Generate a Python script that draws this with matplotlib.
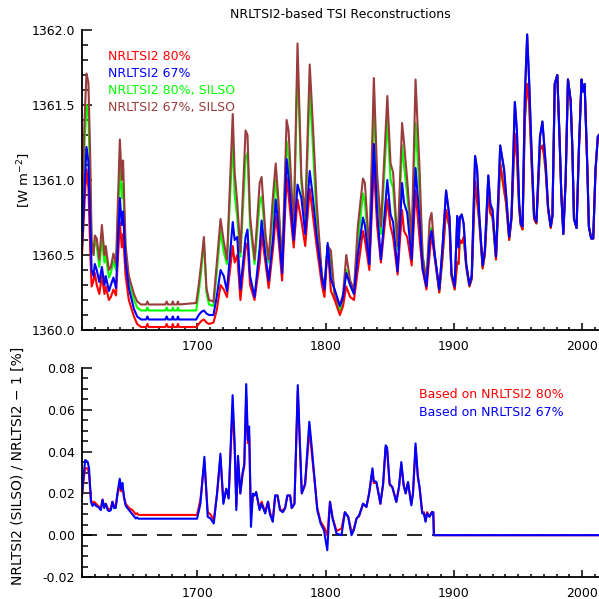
import numpy as np
import matplotlib
matplotlib.use('Agg')
import matplotlib.pyplot as plt
from matplotlib.ticker import MultipleLocator

# top panel, 1610-1885: all four reconstructions
yr_a = [1610, 1612, 1613.5, 1615, 1616.5, 1617.5, 1619, 1620, 1621.5, 1623.5,
        1625.5, 1627.5, 1628.5, 1631, 1632.5, 1634.5, 1636.5, 1639.5, 1641, 1642,
        1644, 1646.5, 1650.5, 1653, 1656, 1660, 1661, 1662, 1675, 1676,
        1677, 1680, 1680.8, 1681.5, 1684, 1684.8, 1685.5, 1699, 1701, 1703,
        1705, 1707, 1709, 1712.5, 1715, 1718, 1720.5, 1723, 1727.5, 1729,
        1731, 1733.5, 1737.5, 1739, 1741, 1744.5, 1748.5, 1750, 1753, 1755.5,
        1759, 1761, 1763, 1766, 1769.5, 1771, 1775, 1778, 1781, 1784,
        1787.5, 1789.5, 1793, 1797, 1799, 1801.5, 1804, 1807, 1811, 1813.5,
        1816, 1819, 1822, 1825, 1829, 1830.5, 1834, 1837.5, 1840, 1843,
        1848, 1850.5, 1852.5, 1856, 1859.5, 1861, 1863.5, 1867, 1870, 1873,
        1875.5, 1878.5, 1881, 1882.5]
nrl80_a = [1360.50, 1360.85, 1361.07, 1360.95, 1360.50, 1360.29, 1360.33, 1360.38, 1360.30, 1360.24,
           1360.36, 1360.24, 1360.29, 1360.20, 1360.22, 1360.27, 1360.23, 1360.72, 1360.55, 1360.64,
           1360.36, 1360.20, 1360.09, 1360.04, 1360.02, 1360.02, 1360.04, 1360.02, 1360.02, 1360.04,
           1360.02, 1360.02, 1360.04, 1360.02, 1360.02, 1360.04, 1360.02, 1360.02, 1360.04, 1360.06,
           1360.07, 1360.05, 1360.04, 1360.05, 1360.13, 1360.30, 1360.27, 1360.22, 1360.56, 1360.45,
           1360.50, 1360.20, 1360.55, 1360.58, 1360.30, 1360.20, 1360.45, 1360.64, 1360.45, 1360.28,
           1360.55, 1360.76, 1360.62, 1360.33, 1361.02, 1360.90, 1360.55, 1360.87, 1360.73, 1360.56,
           1360.94, 1360.80, 1360.55, 1360.30, 1360.22, 1360.56, 1360.26, 1360.20, 1360.10, 1360.16,
           1360.29, 1360.22, 1360.20, 1360.40, 1360.66, 1360.60, 1360.40, 1361.10, 1360.70, 1360.45,
           1360.87, 1360.69, 1360.62, 1360.37, 1360.80, 1360.66, 1360.62, 1360.43, 1360.93, 1360.62,
           1360.40, 1360.27, 1360.51, 1360.64]
nrl67_a = [1360.55, 1360.95, 1361.22, 1361.12, 1360.68, 1360.40, 1360.36, 1360.44, 1360.40, 1360.32,
           1360.42, 1360.30, 1360.36, 1360.26, 1360.30, 1360.35, 1360.28, 1360.88, 1360.70, 1360.79,
           1360.45, 1360.28, 1360.14, 1360.09, 1360.07, 1360.07, 1360.09, 1360.07, 1360.07, 1360.09,
           1360.07, 1360.07, 1360.09, 1360.07, 1360.07, 1360.09, 1360.07, 1360.07, 1360.10, 1360.12,
           1360.13, 1360.11, 1360.10, 1360.10, 1360.22, 1360.40, 1360.36, 1360.26, 1360.72, 1360.60,
           1360.62, 1360.27, 1360.62, 1360.67, 1360.36, 1360.22, 1360.55, 1360.73, 1360.50, 1360.33,
           1360.62, 1360.87, 1360.70, 1360.38, 1361.14, 1361.02, 1360.60, 1360.97, 1360.88, 1360.64,
           1361.06, 1360.92, 1360.62, 1360.35, 1360.27, 1360.58, 1360.34, 1360.27, 1360.16, 1360.22,
           1360.38, 1360.30, 1360.24, 1360.50, 1360.75, 1360.70, 1360.44, 1361.24, 1360.80, 1360.47,
           1361.00, 1360.77, 1360.72, 1360.39, 1360.98, 1360.85, 1360.78, 1360.47, 1361.08, 1360.75,
           1360.41, 1360.29, 1360.60, 1360.66]
silso80_a = [1360.72, 1361.25, 1361.50, 1361.42, 1360.95, 1360.55, 1360.50, 1360.60, 1360.56, 1360.42,
             1360.60, 1360.45, 1360.50, 1360.35, 1360.38, 1360.46, 1360.40, 1361.08, 1360.88, 1360.98,
             1360.52, 1360.33, 1360.20, 1360.15, 1360.13, 1360.13, 1360.15, 1360.13, 1360.13, 1360.15,
             1360.13, 1360.13, 1360.15, 1360.13, 1360.13, 1360.15, 1360.13, 1360.13, 1360.25, 1360.40,
             1360.60, 1360.25, 1360.17, 1360.16, 1360.38, 1360.66, 1360.52, 1360.44, 1361.27, 1360.90,
             1360.75, 1360.49, 1361.15, 1361.18, 1360.70, 1360.44, 1360.85, 1360.89, 1360.62, 1360.45,
             1360.80, 1361.00, 1360.82, 1360.45, 1361.26, 1361.15, 1360.64, 1361.78, 1360.98, 1360.70,
             1361.60, 1361.30, 1360.72, 1360.36, 1360.27, 1360.56, 1360.47, 1360.21, 1360.13, 1360.20,
             1360.40, 1360.30, 1360.24, 1360.58, 1360.91, 1360.85, 1360.50, 1361.51, 1360.95, 1360.64,
             1361.40, 1361.00, 1360.95, 1360.54, 1361.23, 1361.10, 1360.90, 1360.57, 1361.38, 1360.95,
             1360.50, 1360.32, 1360.66, 1360.68]
silso67_a = [1360.78, 1361.40, 1361.71, 1361.65, 1361.12, 1360.60, 1360.50, 1360.63, 1360.61, 1360.47,
             1360.70, 1360.50, 1360.56, 1360.40, 1360.42, 1360.51, 1360.44, 1361.27, 1361.00, 1361.13,
             1360.56, 1360.36, 1360.24, 1360.19, 1360.17, 1360.17, 1360.19, 1360.17, 1360.17, 1360.19,
             1360.17, 1360.17, 1360.19, 1360.17, 1360.17, 1360.19, 1360.17, 1360.18, 1360.30, 1360.45,
             1360.62, 1360.28, 1360.20, 1360.19, 1360.44, 1360.74, 1360.59, 1360.47, 1361.44, 1361.05,
             1360.85, 1360.52, 1361.33, 1361.30, 1360.76, 1360.47, 1360.98, 1361.02, 1360.64, 1360.47,
             1360.91, 1361.11, 1360.88, 1360.42, 1361.40, 1361.33, 1360.67, 1361.91, 1361.02, 1360.76,
             1361.77, 1361.45, 1360.84, 1360.36, 1360.28, 1360.56, 1360.53, 1360.22, 1360.16, 1360.24,
             1360.50, 1360.33, 1360.27, 1360.69, 1361.01, 1360.98, 1360.52, 1361.68, 1361.05, 1360.69,
             1361.56, 1361.11, 1361.05, 1360.56, 1361.38, 1361.25, 1361.00, 1360.60, 1361.67, 1361.10,
             1360.49, 1360.33, 1360.73, 1360.78]

# top panel, 1885-2013: SILSO variants equal the NRLTSI2 ones here
yr_b = [1885, 1888.5, 1891, 1893.8, 1896.5, 1898, 1900.5, 1902.5, 1903.5, 1904.5,
        1906, 1907.5, 1909.5, 1912, 1913.8, 1916.4, 1918, 1919.7, 1922.3, 1924,
        1926.7, 1928.3, 1930, 1932.7, 1936, 1939, 1940.5, 1943, 1944.8, 1947.4,
        1949, 1950.8, 1952, 1953.4, 1955.2, 1957, 1958.5, 1960.4, 1962.4, 1964.2,
        1967, 1968.9, 1970.2, 1971.5, 1973.3, 1975.4, 1976.7, 1978.5, 1980.5, 1982.4,
        1983.6, 1985.2, 1987, 1988.8, 1990.9, 1992.2, 1993.5, 1995.5, 1997.4, 1999.4,
        2000.5, 2001.8, 2003.8, 2005.1, 2006.9, 2008.5, 2010.3, 2012.1, 2013]
nrl67_b = [1360.50, 1360.27, 1360.55, 1360.93, 1360.75, 1360.38, 1360.29, 1360.76, 1360.55, 1360.75,
           1360.77, 1360.71, 1360.44, 1360.30, 1360.36, 1361.16, 1361.07, 1360.76, 1360.43, 1360.53,
           1361.03, 1360.84, 1360.80, 1360.49, 1361.23, 1361.07, 1360.91, 1360.62, 1360.76, 1361.52,
           1361.33, 1360.84, 1360.71, 1360.69, 1361.56, 1361.97, 1361.67, 1361.20, 1360.76, 1360.72,
           1361.29, 1361.39, 1361.24, 1361.10, 1360.82, 1360.69, 1360.76, 1361.64, 1361.70, 1361.24,
           1360.91, 1360.64, 1361.00, 1361.67, 1361.53, 1361.22, 1360.74, 1360.68, 1361.22, 1361.67,
           1361.59, 1361.64, 1361.11, 1360.69, 1360.61, 1360.61, 1361.07, 1361.29, 1361.30]
nrl80_b = [1360.48, 1360.25, 1360.48, 1360.80, 1360.68, 1360.36, 1360.27, 1360.45, 1360.44, 1360.60,
           1360.58, 1360.62, 1360.42, 1360.29, 1360.34, 1360.99, 1360.86, 1360.72, 1360.41, 1360.50,
           1360.93, 1360.78, 1360.75, 1360.47, 1361.11, 1360.93, 1360.85, 1360.60, 1360.74, 1361.31,
           1361.15, 1360.80, 1360.70, 1360.67, 1361.40, 1361.64, 1361.52, 1361.12, 1360.74, 1360.71,
           1361.20, 1361.23, 1361.16, 1361.05, 1360.80, 1360.68, 1360.76, 1361.64, 1361.70, 1361.24,
           1360.91, 1360.64, 1361.00, 1361.67, 1361.53, 1361.22, 1360.74, 1360.68, 1361.22, 1361.67,
           1361.59, 1361.64, 1361.11, 1360.69, 1360.61, 1360.61, 1361.07, 1361.29, 1361.30]

years_top = yr_a + yr_b
nrl80 = nrl80_a + nrl80_b
nrl67 = nrl67_a + nrl67_b
silso80 = silso80_a + nrl80_b
silso67 = silso67_a + nrl67_b

# bottom panel: NRLTSI2(SILSO)/NRLTSI2 - 1 in %
yr_r = [1610, 1611.5, 1612.5, 1614.5, 1615.5, 1617, 1618.2, 1619.5, 1621, 1622.6,
        1624.7, 1626, 1627.3, 1628.6, 1630, 1631.2, 1632.5, 1633.7, 1635, 1636.3,
        1637.6, 1639.4, 1640.5, 1641.5, 1642.8, 1644.1, 1646.7, 1649.3, 1651.9, 1653,
        1654, 1699.7, 1702.3, 1705.4, 1708, 1710.1, 1712.7, 1715.3, 1717.9, 1720.2,
        1722.5, 1724.3, 1727.4, 1729, 1730.3, 1731.6, 1733.4, 1735.2, 1736.5, 1738,
        1739.3, 1740.3, 1741.7, 1743.2, 1744.5, 1745.8, 1748.4, 1750, 1752.8, 1755,
        1756.5, 1758.7, 1760.6, 1762.4, 1764.4, 1766.5, 1768.3, 1770.1, 1772.2, 1773.5,
        1775.6, 1778.2, 1781.3, 1783.9, 1787.2, 1788.5, 1791.6, 1793.4, 1796, 1798.6,
        1801.2, 1803.3, 1805.3, 1808.4, 1812.3, 1814.9, 1817.5, 1820.1, 1821.9, 1824,
        1826, 1829.1, 1831.7, 1833.8, 1836.4, 1837.4, 1839.5, 1842.6, 1844.7, 1846.7,
        1847.8, 1849.8, 1851.9, 1855, 1857.1, 1858.9, 1860.7, 1862.3, 1864.1, 1866.7,
        1868, 1870, 1871.8, 1873.1, 1875.2, 1876.5, 1877.8, 1879, 1880.9, 1882.7,
        1883.8, 1884.3, 2013]
ratio80 = [0.019, 0.028, 0.032, 0.032, 0.029, 0.017, 0.015, 0.016, 0.015, 0.014,
           0.013, 0.017, 0.014, 0.015, 0.013, 0.012, 0.013, 0.016, 0.014, 0.014,
           0.019, 0.024, 0.021, 0.023, 0.018, 0.015, 0.013, 0.012, 0.010, 0.0105,
           0.0097, 0.0097, 0.017, 0.035, 0.011, 0.010, 0.0072, 0.020, 0.037, 0.016,
           0.022, 0.018, 0.0615, 0.041, 0.014, 0.036, 0.020, 0.029, 0.033, 0.0665,
           0.044, 0.048, 0.010, 0.019, 0.019, 0.020, 0.013, 0.016, 0.011, 0.016,
           0.011, 0.007, 0.019, 0.019, 0.012, 0.012, 0.013, 0.019, 0.019, 0.013,
           0.015, 0.069, 0.020, 0.024, 0.050, 0.043, 0.024, 0.013, 0.0065, 0.004,
           0.000, 0.016, 0.0085, 0.002, 0.0032, 0.011, 0.0088, 0.0016, 0.003, 0.008,
           0.009, 0.015, 0.0135, 0.020, 0.031, 0.025, 0.025, 0.015, 0.024, 0.042,
           0.041, 0.024, 0.023, 0.016, 0.023, 0.034, 0.024, 0.020, 0.025, 0.015,
           0.020, 0.042, 0.028, 0.023, 0.011, 0.011, 0.007, 0.011, 0.009, 0.011,
           0.011, 0.0, 0.0]
ratio67 = [0.019, 0.030, 0.036, 0.035, 0.032, 0.016, 0.014, 0.015, 0.014, 0.0135,
           0.012, 0.017, 0.013, 0.015, 0.012, 0.0115, 0.012, 0.016, 0.013, 0.013,
           0.020, 0.027, 0.022, 0.025, 0.018, 0.014, 0.012, 0.010, 0.008, 0.0085,
           0.0079, 0.0079, 0.015, 0.0375, 0.0088, 0.008, 0.0056, 0.020, 0.039, 0.015,
           0.0223, 0.0175, 0.067, 0.044, 0.012, 0.038, 0.020, 0.030, 0.034, 0.0723,
           0.0455, 0.052, 0.004, 0.0199, 0.019, 0.0207, 0.012, 0.015, 0.0104, 0.016,
           0.010, 0.0064, 0.019, 0.019, 0.012, 0.011, 0.0128, 0.019, 0.019, 0.013,
           0.015, 0.0718, 0.020, 0.0247, 0.0543, 0.046, 0.0247, 0.012, 0.0056, 0.0024,
           -0.0072, 0.016, 0.0081, 0.0008, 0.0, 0.011, 0.0088, 0.0, 0.0024, 0.008,
           0.0095, 0.0151, 0.0135, 0.0199, 0.032, 0.026, 0.0255, 0.0151, 0.0247, 0.043,
           0.042, 0.0247, 0.023, 0.0159, 0.0231, 0.035, 0.024, 0.020, 0.0255, 0.0143,
           0.020, 0.0439, 0.028, 0.023, 0.0104, 0.0104, 0.0064, 0.0104, 0.0088, 0.011,
           0.011, 0.0, 0.0]

c_red, c_blue, c_green, c_brown = '#ff0000', '#0000ff', '#00ff00', '#9a3c3c'

plt.rcParams['font.family'] = 'DejaVu Sans'
plt.rcParams['font.size'] = 9

fig = plt.figure(figsize=(5.99, 5.99), dpi=100)
ax1 = fig.add_axes([82/599, 269/599, 517/599, 300/599])
ax2 = fig.add_axes([82/599, 22/599, 517/599, 209/599])

ax1.plot(years_top, silso80, color=c_green, lw=1.5)
ax1.plot(years_top, silso67, color=c_brown, lw=1.5)
ax1.plot(years_top, nrl80, color=c_red, lw=1.5)
ax1.plot(years_top, nrl67, color=c_blue, lw=1.5)
ax1.set_ylim(1360.0, 1362.0)
ax1.yaxis.set_major_locator(MultipleLocator(0.5))
ax1.yaxis.set_minor_locator(MultipleLocator(0.1))
ax1.yaxis.set_major_formatter(matplotlib.ticker.FormatStrFormatter('%.1f'))

ax2.axhline(0, color='black', lw=1.2, dashes=(9, 6))
ax2.plot(yr_r, ratio80, color=c_red, lw=1.5)
ax2.plot(yr_r, ratio67, color=c_blue, lw=1.5)
ax2.set_ylim(-0.02, 0.08)
ax2.yaxis.set_major_locator(MultipleLocator(0.02))
ax2.yaxis.set_minor_locator(MultipleLocator(0.005))
ax2.yaxis.set_major_formatter(matplotlib.ticker.FormatStrFormatter('%.2f'))

for ax in (ax1, ax2):
    ax.set_xlim(1610, 2013)
    ax.set_xticks([1700, 1800, 1900, 2000])
    ax.xaxis.set_minor_locator(MultipleLocator(10))
    ax.spines['top'].set_visible(False)
    ax.spines['right'].set_visible(False)
    for s in ('left', 'bottom'):
        ax.spines[s].set_linewidth(1.3)
    ax.tick_params(axis='both', which='both', direction='in', width=1.1, labelsize=9)
    ax.tick_params(axis='y', which='major', length=7, pad=5)
    ax.tick_params(axis='y', which='minor', length=4)
    ax.tick_params(axis='x', which='major', length=5, pad=7)
    ax.tick_params(axis='x', which='minor', length=2.5)

fig.text(340/599, 1 - 14/599, 'NRLTSI2-based TSI Reconstructions', ha='center', va='center', fontsize=9)
fig.text(24/599, 1 - 180/599, '[W m$^{-2}$]', rotation=90, ha='center', va='center', fontsize=9.5)
fig.text(18/599, 1 - 466/599, 'NRLTSI2 (SILSO) / NRLTSI2 \u2212 1 [%]', rotation=90,
         ha='center', va='center', fontsize=10)

labels = ['NRLTSI2 80%', 'NRLTSI2 67%', 'NRLTSI2 80%, SILSO', 'NRLTSI2 67%, SILSO']
cols = [c_red, c_blue, c_green, c_brown]
for i, (lab, c) in enumerate(zip(labels, cols)):
    ax1.text(0.05, 0.913 - i * 0.057, lab, color=c, transform=ax1.transAxes, va='center')

ax2.text(0.652, 0.871, 'Based on NRLTSI2 80%', color=c_red, transform=ax2.transAxes, va='center')
ax2.text(0.652, 0.789, 'Based on NRLTSI2 67%', color=c_blue, transform=ax2.transAxes, va='center')

fig.savefig('out.png', dpi=100)
